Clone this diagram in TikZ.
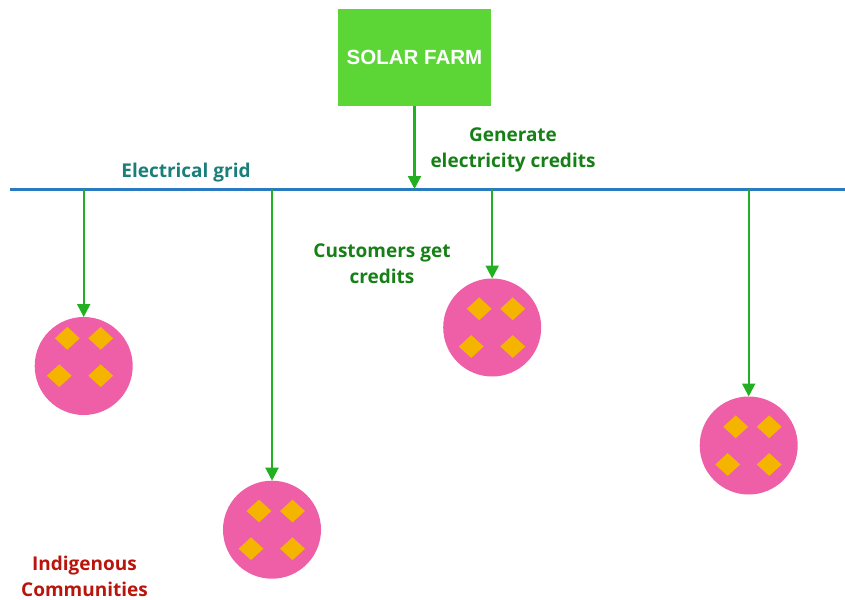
\documentclass[tikz,border=0pt]{standalone}
\usepackage{fontspec}
\setmainfont{Open Sans}
\newfontfamily\farmfont{Liberation Sans}
\usepackage{tikz}
\usetikzlibrary{arrows.meta,positioning,calc,shapes.geometric}
\definecolor{farm}{HTML}{5CD637}
\definecolor{wire}{HTML}{2A7AC1}
\definecolor{feed}{HTML}{22B022}
\definecolor{home}{HTML}{EE5FA7}
\definecolor{gem}{HTML}{F5B400}
\definecolor{gridtxt}{HTML}{1A7F78}
\definecolor{credtxt}{HTML}{167F16}
\definecolor{ctytxt}{HTML}{B8150C}

\begin{document}
\begin{tikzpicture}[x=1pt, y=-1pt, font=\fontsize{19}{26}\selectfont\bfseries,
  flow/.style={draw=feed, line width=2.2pt, -{Triangle[length=13pt, width=13pt]}},
  cty/.style={circle, fill=home, minimum size=98pt, inner sep=0pt, outer sep=0pt},
  gemstone/.style={diamond, fill=gem, minimum width=25pt, minimum height=23pt, inner sep=0pt},
  lbl/.style={align=center, inner sep=0pt}]
\useasboundingbox (0,0) rectangle (845,599);
\node[fill=farm, minimum width=153pt, minimum height=97pt, inner sep=0pt, outer sep=0pt,
  text=white, font=\farmfont\bfseries\fontsize{20.5}{24}\selectfont] (solar) at (414.5,57.5) {SOLAR FARM};
\coordinate (gl) at (10,189);
\coordinate (gr) at (845,189);
\draw[wire, line width=3pt] (gl) -- (gr);
\node[cty] (c1) at (83.7,366) {};
\node[cty] (c2) at (272,529.7) {};
\node[cty] (c3) at (492.2,327.5) {};
\node[cty] (c4) at (748.7,445.5) {};
\foreach \dx/\dy [count=\k] in {-16.4/-27.7, 17/-27.7, -24.4/9.7, 17/9.7}
  \node[gemstone] (c1-\k) at ($(c1)+(\dx,\dy)$) {};
\foreach \c in {c2,c3,c4}
  \foreach \dx/\dy [count=\k] in {-13/-18.7, 20.5/-18.7, -21/19, 20.5/19}
    \node[gemstone] (\c-\k) at ($(\c)+(\dx,\dy)$) {};
\draw[flow] (solar.south) -- (solar.south |- gl);
\foreach \c in {c1,c2,c3,c4}
  \draw[flow] (gl -| \c) -- (\c.north);
\node[lbl, text=gridtxt, anchor=base] (grid) at (186,177) {Electrical grid};
\node[lbl, text=credtxt] (gen) at (513,150) {Generate\\electricity credits};
\node[lbl, text=credtxt] (get) at (382,264) {Customers get\\credits};
\node[lbl, text=ctytxt] (ind) at (84.5,576) {Indigenous\\Communities};
\end{tikzpicture}
\end{document}
